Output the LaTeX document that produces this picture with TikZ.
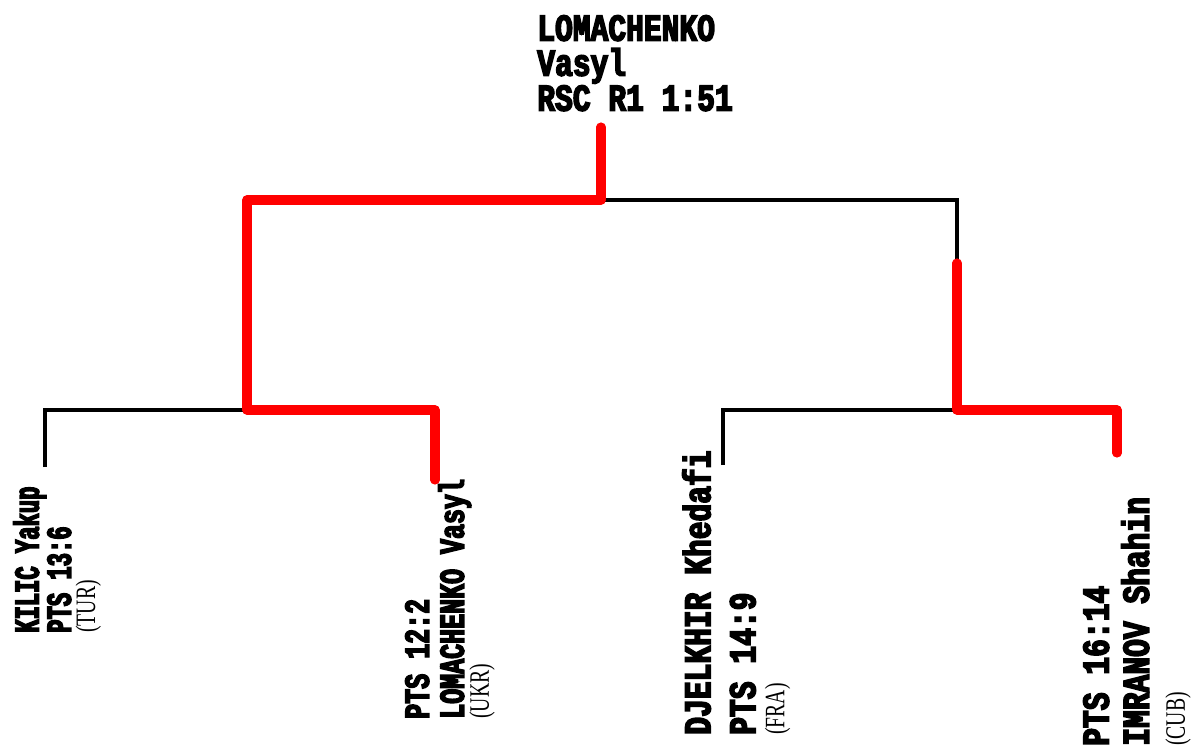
\documentclass[tikz,border=0pt]{standalone}
\usepackage{fontspec}
\usepackage{tikz}
\newfontfamily\widecaps[FakeStretch=0.78,FakeBold=4]{Liberation Mono}
\newfontfamily\slimcaps[FakeStretch=0.63,FakeBold=4]{Liberation Mono}
\newfontfamily\midcaps[FakeStretch=0.71,FakeBold=4]{Liberation Mono}
\newfontfamily\noc[FakeStretch=0.7]{Liberation Serif}

\begin{document}
\begin{tikzpicture}[x=0.025cm,y=-0.025cm,loser/.style={draw=black,line width=2.2pt},winner/.style={draw=red,line width=6.5pt,line cap=round,line join=round},boxer/.style={inner sep=0pt,align=left,rotate=90,anchor=north west}]
\useasboundingbox (0,0) rectangle (1200,751);
\node[inner sep=0pt,align=left,anchor=north west,font=\widecaps\bfseries\fontsize{27}{24.9}\selectfont] (champ) at (537,15) {LOMACHENKO\\Vasyl\\RSC R1 1:51};
\node[boxer,font=\slimcaps\bfseries\fontsize{25}{22.8}\selectfont] (kil) at (13,633) {KILIC Yakup\\PTS 13:6\\[-5.5pt]{\noc\mdseries\fontsize{20}{15.6}\selectfont(TUR)}};
\node[boxer,font=\midcaps\bfseries\fontsize{25}{24.9}\selectfont] (lom) at (405,719) {PTS 12:2\\LOMACHENKO Vasyl\\[-7pt]{\noc\mdseries\fontsize{20}{16.4}\selectfont(UKR)}};
\node[boxer,font=\widecaps\bfseries\fontsize{27}{32}\selectfont] (dje) at (682,735) {DJELKHIR Khedafi\\PTS 14:9\\[-11.3pt]{\noc\mdseries\fontsize{20}{19.2}\selectfont(FRA)}};
\node[boxer,font=\widecaps\bfseries\fontsize{27}{28.5}\selectfont] (imr) at (1083,746) {PTS 16:14\\IMRANOV Shahin\\[-2.8pt]{\noc\mdseries\fontsize{20}{24.2}\selectfont(CUB)}};
\coordinate (top) at (601,127);
\coordinate (fin) at (601,200);
\coordinate (semL) at (247,410);
\coordinate (semR) at (957,410);
\coordinate (semRup) at (957,263);
\coordinate (kilend) at (45,467);
\coordinate (lomend) at (435,480);
\coordinate (djeend) at (723,465);
\coordinate (imrend) at (1117,453);
\draw[loser] (fin) -| (semR);
\draw[loser] (kilend) |- (semL);
\draw[loser] (djeend) |- (semR);
\draw[winner] (top) -- (fin) -| (semL) -| (lomend);
\draw[winner] (semRup) -- (semR) -| (imrend);
\end{tikzpicture}
\end{document}
